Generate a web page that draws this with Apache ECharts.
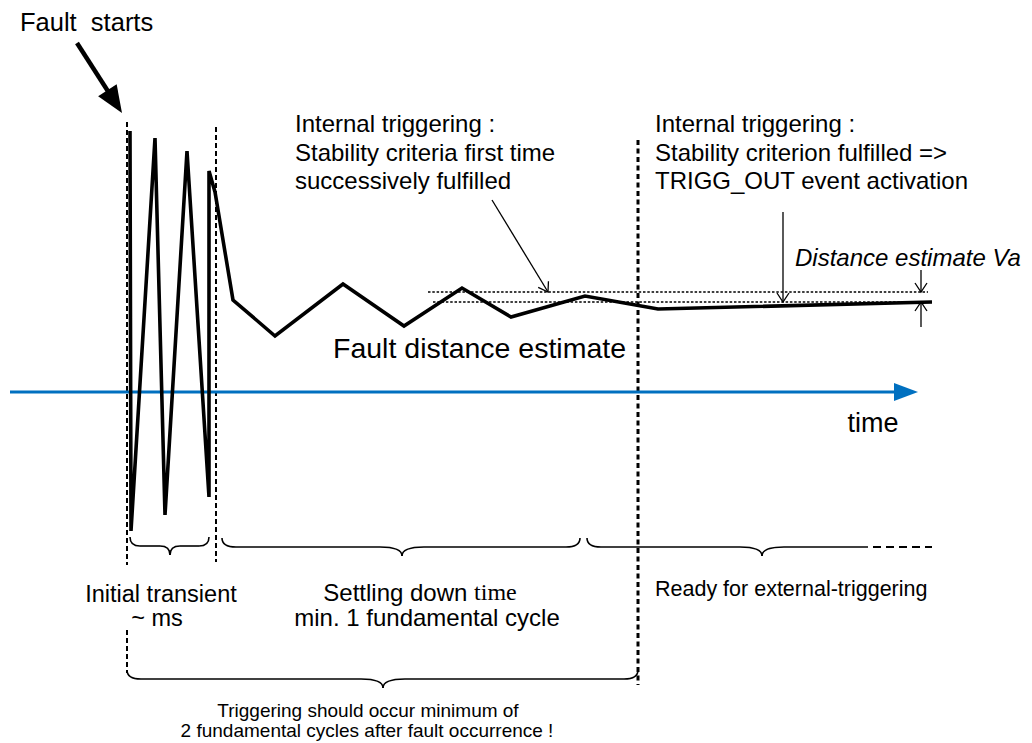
<!DOCTYPE html>
<html>
<head>
<meta charset="utf-8">
<script src="https://cdn.jsdelivr.net/npm/echarts@6/dist/echarts.min.js"></script>
<style>
html,body{margin:0;padding:0;background:#fff;}
#chart{width:1032px;height:743px;}
</style>
</head>
<body>
<div id="chart"></div>
<script>
// ---- Fault distance estimate trace (time position, estimate level) ----
const traceTime  = [130, 131, 155, 165, 187, 209, 209, 215, 233, 275, 343, 404, 462, 511, 585, 658, 932];
const traceValue = [131, 531, 138, 515, 151, 497, 171, 192, 300, 336, 284, 326, 288, 317, 296, 309, 302];

// ---- Arrows (start / end) ----
const arrowX1 = [77, 10, 492, 783, 921, 921];
const arrowY1 = [43, 392, 200, 212, 270, 327];
const arrowX2 = [122, 918, 548, 783, 921, 921];
const arrowY2 = [113, 392, 292, 302, 292, 302];
const arrowKind = ['bold', 'axis', 'thin', 'thin', 'thin', 'thin'];

// ---- Guide lines (dashed markers, stability band, tail) ----
const guideX1 = [127, 127, 216, 638, 428, 433, 873];
const guideY1 = [122, 630, 127, 140, 292, 302, 547];
const guideX2 = [127, 127, 216, 638, 928, 928, 932];
const guideY2 = [565, 673, 562, 685, 292, 302, 547];
const guideKind = ['dash', 'dash', 'dash', 'heavy', 'dot', 'dot', 'tail'];

// ---- Braces (interval start, end, level, tip, closed right end) ----
const braceStart = [130, 222, 587, 127];
const braceEnd   = [209, 580, 868, 638];
const braceLevel = [546, 547, 547, 679];
const braceTip   = [170, 402, 762, 383];
const braceClosed = [1, 1, 0, 1];

// ---- Labels ----
const labelText = [
  'Fault  starts',
  'Internal triggering :',
  'Stability criteria first time',
  'successively fulfilled',
  'Internal triggering :',
  'Stability criterion fulfilled =>',
  'TRIGG_OUT event activation',
  'Distance estimate Va',
  'Fault distance estimate',
  'time',
  'Initial transient',
  '~ ms',
  '{a|Settling down }{b|time}',
  'min. 1 fundamental cycle',
  'Ready for external-triggering',
  'Triggering should occur minimum of',
  '2 fundamental cycles after fault occurrence !'
];
const labelX = [20, 295, 295, 295, 655, 655, 655, 795, 333, 873, 161, 157, 420, 427, 655, 368, 367];
const labelY = [22, 123, 152, 180, 123, 152, 180, 257, 348, 423, 594, 618, 592, 617, 589, 710, 730];

// ---- Styles (kept separate from data) ----
const SANS = '"Liberation Sans", Arial, Helvetica, sans-serif';
const SERIF = '"Liberation Serif", "Times New Roman", serif';
const labelStyle = [
  {size: 25.5, align: 'left'},
  {size: 24, align: 'left'},
  {size: 24, align: 'left'},
  {size: 24, align: 'left'},
  {size: 24, align: 'left'},
  {size: 24, align: 'left'},
  {size: 24, align: 'left'},
  {size: 24, align: 'left', italic: true},
  {size: 28.5, align: 'left'},
  {size: 27, align: 'center'},
  {size: 23.5, align: 'center'},
  {size: 23.5, align: 'center'},
  {size: 24, align: 'center', rich: {a: {fontSize: 24, lineHeight: 24, fontFamily: SANS, fill: '#000'}, b: {fontSize: 24, lineHeight: 24, fontFamily: SERIF, fill: '#000'}}},
  {size: 24, align: 'center'},
  {size: 21.5, align: 'left'},
  {size: 19, align: 'center'},
  {size: 19, align: 'center'}
];
const arrowStyle = {
  bold: {color: '#000', width: 4.5, head: 'filled', len: 27, half: 11},
  axis: {color: '#0070C0', width: 3, head: 'filled', len: 24, half: 9},
  thin: {color: '#000', width: 1.3, head: 'open', len: 9, half: 6}
};
const guideStyle = {
  dash:  {width: 2, dash: [5, 3]},
  heavy: {width: 3, dash: [5, 3.5]},
  dot:   {width: 1.3, dash: [2.5, 1.8]},
  tail:  {width: 1.8, dash: [8, 5]}
};

const chart = echarts.init(document.getElementById('chart'), null, {renderer: 'svg'});

function arrowItem(params, api) {
  const p1 = api.coord([api.value(0), api.value(1)]);
  const p2 = api.coord([api.value(2), api.value(3)]);
  const st = arrowStyle[arrowKind[params.dataIndex]];
  const dx = p2[0] - p1[0], dy = p2[1] - p1[1];
  const L = Math.sqrt(dx * dx + dy * dy);
  const ux = dx / L, uy = dy / L, nx = -uy, ny = ux;
  const bx = p2[0] - ux * st.len, by = p2[1] - uy * st.len;
  const children = [];
  if (st.head === 'filled') {
    children.push({type: 'line', shape: {x1: p1[0], y1: p1[1], x2: bx + ux * 2, y2: by + uy * 2},
      style: {stroke: st.color, lineWidth: st.width}});
    children.push({type: 'polygon', shape: {points: [[p2[0], p2[1]], [bx + nx * st.half, by + ny * st.half], [bx - nx * st.half, by - ny * st.half]]},
      style: {fill: st.color}});
  } else {
    children.push({type: 'line', shape: {x1: p1[0], y1: p1[1], x2: p2[0], y2: p2[1]},
      style: {stroke: st.color, lineWidth: st.width}});
    children.push({type: 'polyline', shape: {points: [[bx + nx * st.half, by + ny * st.half], [p2[0], p2[1]], [bx - nx * st.half, by - ny * st.half]]},
      style: {stroke: st.color, lineWidth: st.width, fill: 'none'}});
  }
  return {type: 'group', children: children};
}

function guideItem(params, api) {
  const p1 = api.coord([api.value(0), api.value(1)]);
  const p2 = api.coord([api.value(2), api.value(3)]);
  const st = guideStyle[guideKind[params.dataIndex]];
  return {type: 'line', shape: {x1: p1[0], y1: p1[1], x2: p2[0], y2: p2[1]},
    style: {stroke: '#000', lineWidth: st.width, lineDash: st.dash}};
}

function braceItem(params, api) {
  const a = api.coord([api.value(0), api.value(2)]);
  const b = api.coord([api.value(1), api.value(2)]);
  const t = api.coord([api.value(3), api.value(2)]);
  const closed = api.value(4) === 1;
  const L = a[0], R = b[0], Y = a[1], T = t[0];
  const h = 9, d = 9;
  const cw = Math.min(14, (T - L) / 4);
  const tw = Math.min(22, (T - L) / 4);
  const st = {stroke: '#000', lineWidth: 1.6, fill: 'none'};
  const c = [];
  c.push({type: 'bezierCurve', shape: {x1: L, y1: Y - h, x2: L + cw, y2: Y, cpx1: L, cpy1: Y}, style: st});
  c.push({type: 'line', shape: {x1: L + cw, y1: Y, x2: T - tw, y2: Y}, style: st});
  c.push({type: 'bezierCurve', shape: {x1: T - tw, y1: Y, x2: T, y2: Y + d, cpx1: T, cpy1: Y}, style: st});
  c.push({type: 'bezierCurve', shape: {x1: T, y1: Y + d, x2: T + tw, y2: Y, cpx1: T, cpy1: Y}, style: st});
  c.push({type: 'line', shape: {x1: T + tw, y1: Y, x2: closed ? R - cw : R, y2: Y}, style: st});
  if (closed) {
    c.push({type: 'bezierCurve', shape: {x1: R - cw, y1: Y, x2: R, y2: Y - h, cpx1: R, cpy1: Y}, style: st});
  }
  return {type: 'group', children: c};
}

function labelItem(params, api) {
  const i = params.dataIndex;
  const p = api.coord([api.value(0), api.value(1)]);
  const s = labelStyle[i];
  const style = {
    text: labelText[i], x: p[0], y: p[1], fill: '#000',
    fontSize: s.size, lineHeight: s.size, fontFamily: SANS, fontStyle: s.italic ? 'italic' : 'normal',
    align: s.align, verticalAlign: 'middle'
  };
  if (s.rich) style.rich = s.rich;
  return {type: 'text', style: style};
}

const option = {
  animation: false,
  backgroundColor: '#fff',
  grid: {left: 0, right: 0, top: 0, bottom: 0, containLabel: false},
  xAxis: {type: 'value', min: 0, max: 1032, show: false},
  yAxis: {type: 'value', min: 0, max: 743, inverse: true, show: false},
  series: [
    {
      type: 'custom', name: 'guides', renderItem: guideItem, z: 1,
      data: guideX1.map((x, i) => [x, guideY1[i], guideX2[i], guideY2[i]])
    },
    {
      type: 'custom', name: 'braces', renderItem: braceItem, z: 2,
      data: braceStart.map((x, i) => [x, braceEnd[i], braceLevel[i], braceTip[i], braceClosed[i]])
    },
    {
      type: 'custom', name: 'arrows', renderItem: arrowItem, z: 3,
      data: arrowX1.map((x, i) => [x, arrowY1[i], arrowX2[i], arrowY2[i]])
    },
    {
      type: 'line', name: 'Fault distance estimate', z: 4,
      data: traceTime.map((x, i) => [x, traceValue[i]]),
      symbol: 'none', silent: true,
      lineStyle: {color: '#000', width: 3.6, join: 'miter', miterLimit: 6}
    },
    {
      type: 'custom', name: 'labels', renderItem: labelItem, z: 5,
      data: labelX.map((x, i) => [x, labelY[i]])
    }
  ]
};
chart.setOption(option);
</script>
</body>
</html>
